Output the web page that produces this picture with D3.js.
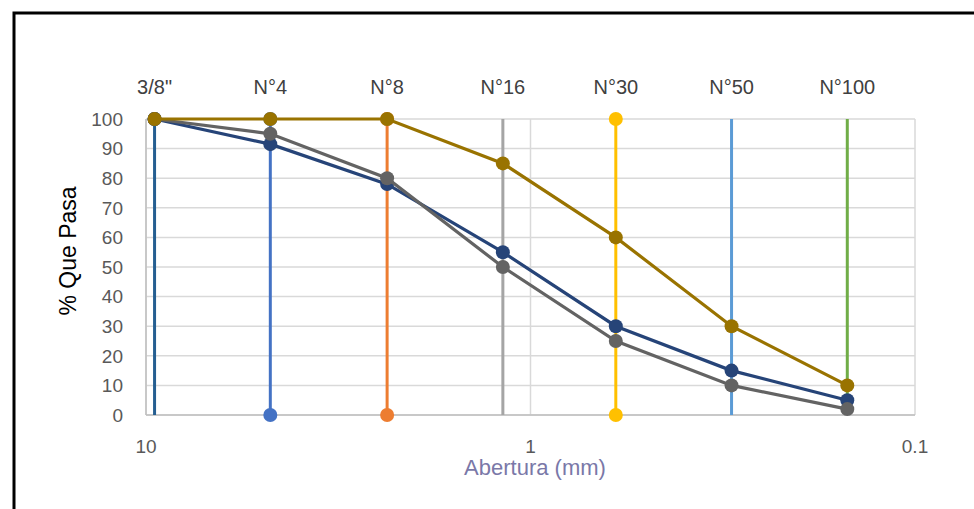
<!DOCTYPE html>
<html><head><meta charset="utf-8">
<script src="https://cdn.jsdelivr.net/npm/d3@7/dist/d3.min.js"></script>
<style>
body{margin:0;background:#fff;}
svg{display:block;font-family:"Liberation Sans",Arial,sans-serif;}
</style></head>
<body><svg id="c" width="974" height="509"></svg>
<script>
const sieveLabels = ["3/8\"", "N°4", "N°8", "N°16", "N°30", "N°50", "N°100"];
const sieveSizes = [9.5, 4.75, 2.36, 1.18, 0.6, 0.3, 0.15];
const sieveColors = ["#255e91", "#4472c4", "#ed7d31", "#a5a5a5", "#ffc000", "#5b9bd5", "#70ad47"];
const sieveBottomMarker = [false, true, true, false, true, false, false];
const sieveTopMarker = [true, true, true, false, true, false, false];
const seriesNavy = [100, 91.5, 78, 55, 30, 15, 5];
const seriesGray = [100, 95, 80, 50, 25, 10, 2];
const seriesGold = [100, 100, 100, 85, 60, 30, 10];
const yTicks = [0, 10, 20, 30, 40, 50, 60, 70, 80, 90, 100];
const xTicks = [10, 1, 0.1];

const svg = d3.select("#c");
const L = 146, R = 915, T = 119, B = 415;
const x = d3.scaleLog().domain([10, 0.1]).range([L, R]);
const y = d3.scaleLinear().domain([0, 100]).range([B, T]);

// outer frame
svg.append("rect").attr("x", 14).attr("y", 13).attr("width", 980).attr("height", 520)
  .attr("fill", "none").attr("stroke", "#000").attr("stroke-width", 3);

// horizontal grid
svg.append("g").selectAll("line").data(yTicks).join("line")
  .attr("x1", L).attr("x2", R).attr("y1", d => y(d)).attr("y2", d => y(d))
  .attr("stroke", "#d9d9d9").attr("stroke-width", 1.5);
// vertical grid at decades
svg.append("g").selectAll("line").data(xTicks).join("line")
  .attr("x1", d => x(d)).attr("x2", d => x(d)).attr("y1", T).attr("y2", B)
  .attr("stroke", "#d9d9d9").attr("stroke-width", 1.5);
// axis lines
svg.append("line").attr("x1", L).attr("x2", L).attr("y1", T).attr("y2", B).attr("stroke", "#bfbfbf").attr("stroke-width", 1.5);
svg.append("line").attr("x1", L).attr("x2", R).attr("y1", B).attr("y2", B).attr("stroke", "#bfbfbf").attr("stroke-width", 1.5);

// y tick labels
svg.append("g").selectAll("text").data(yTicks).join("text")
  .attr("x", 123).attr("y", d => y(d)).attr("dy", "0.36em").attr("text-anchor", "end")
  .attr("font-size", 19).attr("fill", "#595959").text(d => d);
// x tick labels
svg.append("g").selectAll("text").data(xTicks).join("text")
  .attr("x", d => x(d)).attr("y", 453).attr("text-anchor", "middle")
  .attr("font-size", 19).attr("fill", "#595959").text(d => d);
// sieve labels
svg.append("g").selectAll("text").data(sieveSizes).join("text")
  .attr("x", d => x(d)).attr("y", 94).attr("text-anchor", "middle")
  .attr("font-size", 20).attr("fill", "#404040").text((d, i) => sieveLabels[i]);

// axis titles
svg.append("text").attr("transform", "translate(76,251) rotate(-90)")
  .attr("text-anchor", "middle").attr("font-size", 23)
  .attr("fill", "#000").text("% Que Pasa");
svg.append("text").attr("x", 535).attr("y", 475).attr("text-anchor", "middle")
  .attr("font-size", 22).attr("fill", "#7a78a8").text("Abertura (mm)");

// vertical sieve lines
const vg = svg.append("g");
sieveSizes.forEach((s, i) => {
  vg.append("line").attr("x1", x(s)).attr("x2", x(s)).attr("y1", y(0)).attr("y2", y(100))
    .attr("stroke", sieveColors[i]).attr("stroke-width", 3);
  if (sieveBottomMarker[i]) vg.append("circle").attr("cx", x(s)).attr("cy", y(0)).attr("r", 7).attr("fill", sieveColors[i]);
  if (sieveTopMarker[i]) vg.append("circle").attr("cx", x(s)).attr("cy", y(100)).attr("r", 7).attr("fill", sieveColors[i]);
});

// curves
const line = d3.line().x((d, i) => x(sieveSizes[i])).y(d => y(d));
[[seriesNavy, "#264478"], [seriesGray, "#636363"], [seriesGold, "#997300"]].forEach(([vals, col]) => {
  const g = svg.append("g");
  g.append("path").attr("d", line(vals)).attr("fill", "none").attr("stroke", col).attr("stroke-width", 3.2);
  g.selectAll("circle").data(vals).join("circle")
    .attr("cx", (d, i) => x(sieveSizes[i])).attr("cy", d => y(d)).attr("r", 7).attr("fill", col);
});
</script></body></html>
